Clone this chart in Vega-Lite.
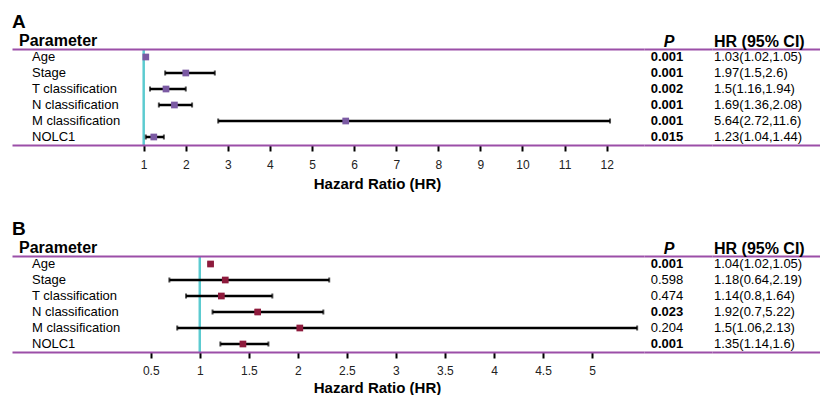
{
  "$schema": "https://vega.github.io/schema/vega-lite/v6.json",
  "padding": {"left": 12, "top": 12, "right": 0, "bottom": 0},
  "background": "white",
  "config": {
    "font": "Liberation Sans",
    "view": {"stroke": null},
    "title": {"font": "Liberation Sans", "fontWeight": "bold", "color": "black"},
    "axis": {"labelFont": "Liberation Sans", "titleFont": "Liberation Sans"}
  },
  "datasets": {
    "A": [
      {"param": "Age", "hr": 1.05, "lo": 1.03, "hi": 1.07, "p": 0.001, "ci": "1.03(1.02,1.05)"},
      {"param": "Stage", "hr": 2.0, "lo": 1.51, "hi": 2.69, "p": 0.001, "ci": "1.97(1.5,2.6)"},
      {"param": "T classification", "hr": 1.53, "lo": 1.15, "hi": 2.0, "p": 0.002, "ci": "1.5(1.16,1.94)"},
      {"param": "N classification", "hr": 1.73, "lo": 1.36, "hi": 2.15, "p": 0.001, "ci": "1.69(1.36,2.08)"},
      {"param": "M classification", "hr": 5.8, "lo": 2.77, "hi": 12.08, "p": 0.001, "ci": "5.64(2.72,11.6)"},
      {"param": "NOLC1", "hr": 1.24, "lo": 1.05, "hi": 1.48, "p": 0.015, "ci": "1.23(1.04,1.44)"}
    ],
    "B": [
      {"param": "Age", "hr": 1.11, "lo": 1.09, "hi": 1.13, "p": 0.001, "ci": "1.04(1.02,1.05)"},
      {"param": "Stage", "hr": 1.26, "lo": 0.69, "hi": 2.32, "p": 0.598, "ci": "1.18(0.64,2.19)"},
      {"param": "T classification", "hr": 1.22, "lo": 0.86, "hi": 1.74, "p": 0.474, "ci": "1.14(0.8,1.64)"},
      {"param": "N classification", "hr": 1.59, "lo": 1.13, "hi": 2.26, "p": 0.023, "ci": "1.92(0.7,5.22)"},
      {"param": "M classification", "hr": 2.02, "lo": 0.77, "hi": 5.46, "p": 0.204, "ci": "1.5(1.06,2.13)"},
      {"param": "NOLC1", "hr": 1.44, "lo": 1.21, "hi": 1.7, "p": 0.001, "ci": "1.35(1.14,1.6)"}
    ]
  },
  "spacing": 28,
  "vconcat": [
    {
      "title": {"text": "A", "anchor": "start", "fontSize": 19, "offset": 1},
      "data": {"name": "A"},
      "spacing": 0,
      "hconcat": [
        {
          "width": 632, "height": 96,
          "title": {"text": "Parameter", "anchor": "start", "fontSize": 16, "dx": 7, "offset": -1},
          "layer": [
            {"data": {"values": [{"ref": 1}]},
             "mark": {"type": "rule", "color": "#5ccbd0", "strokeWidth": 2.5},
             "encoding": {"x": {"field": "ref", "type": "quantitative",
               "scale": {"domain": [-2.129, 12.887], "nice": false, "zero": false},
               "axis": {"orient": "top", "title": null, "labels": false, "ticks": false, "grid": false, "domainColor": "#9b4fa8", "domainWidth": 2, "zindex": 1}}}},
            {"mark": {"type": "rule", "color": "black", "strokeWidth": 2.5},
             "encoding": {
               "x": {"field": "lo", "type": "quantitative",
                 "axis": {"orient": "bottom", "values": [1,2,3,4,5,6,7,8,9,10,11,12], "format": "~g", "title": "Hazard Ratio (HR)", "titleFontSize": 15, "titleFontWeight": "bold", "titleColor": "black", "titleX": 365, "titlePadding": 6, "domainColor": "#9b4fa8", "domainWidth": 2, "tickColor": "black", "tickWidth": 2, "tickSize": 6, "labelFontSize": 12, "labelColor": "#222", "labelPadding": 8, "grid": false, "zindex": 1, "labelFlush": false, "labelOverlap": false}},
               "x2": {"field": "hi"},
               "y": {"field": "param", "type": "nominal",
                 "scale": {"domain": ["Age", "Stage", "T classification", "N classification", "M classification", "NOLC1"], "paddingInner": 0, "paddingOuter": 0},
                 "axis": null}}},
            {"mark": {"type": "tick", "color": "black", "size": 5, "thickness": 2},
             "encoding": {"x": {"field": "lo", "type": "quantitative", "axis": null}, "y": {"field": "param", "type": "nominal", "axis": null}}},
            {"mark": {"type": "tick", "color": "black", "size": 5, "thickness": 2},
             "encoding": {"x": {"field": "hi", "type": "quantitative", "axis": null}, "y": {"field": "param", "type": "nominal", "axis": null}}},
            {"mark": {"type": "point", "shape": "square", "filled": true, "size": 45, "color": "#7b5aa3", "opacity": 1},
             "encoding": {"x": {"field": "hr", "type": "quantitative", "axis": null}, "y": {"field": "param", "type": "nominal", "axis": null}}},
            {"mark": {"type": "text", "align": "left", "fontSize": 13, "color": "black", "dx": 20},
             "encoding": {"x": {"datum": -2.129, "type": "quantitative", "axis": null}, "y": {"field": "param", "type": "nominal", "axis": null}, "text": {"field": "param", "type": "nominal"}}}
          ],
          "resolve": {"axis": {"x": "independent"}}
        },
        {
          "width": 68, "height": 96,
          "title": {"text": "P", "fontStyle": "italic", "fontSize": 16, "anchor": "middle", "dx": -9, "offset": -1},
          "layer": [
            {"transform": [{"filter": "datum.p < 0.05"}],
             "mark": {"type": "text", "fontWeight": "bold", "fontSize": 13, "color": "black", "dx": -11},
             "encoding": {
               "x": {"datum": 0.5, "type": "quantitative", "scale": {"domain": [0, 1]},
                 "axis": {"orient": "bottom", "title": null, "labels": false, "ticks": false, "grid": false, "domainColor": "#9b4fa8", "domainWidth": 2}},
               "y": {"field": "param", "type": "nominal", "scale": {"domain": ["Age", "Stage", "T classification", "N classification", "M classification", "NOLC1"], "paddingInner": 0, "paddingOuter": 0}, "axis": null},
               "text": {"field": "p", "type": "quantitative", "format": ".3f"}}},
            {"transform": [{"filter": "datum.p >= 0.05"}],
             "mark": {"type": "text", "fontSize": 13, "color": "black", "dx": -11},
             "encoding": {
               "x": {"datum": 0.5, "type": "quantitative",
                 "axis": {"orient": "top", "title": null, "labels": false, "ticks": false, "grid": false, "domainColor": "#9b4fa8", "domainWidth": 2}},
               "y": {"field": "param", "type": "nominal", "axis": null},
               "text": {"field": "p", "type": "quantitative", "format": ".3f"}}}
          ],
          "resolve": {"axis": {"x": "independent"}}
        },
        {
          "width": 108, "height": 96,
          "title": {"text": "HR (95% CI)", "anchor": "start", "fontSize": 16, "dx": 2, "offset": -1},
          "layer": [
            {"mark": {"type": "text", "align": "left", "fontSize": 13, "color": "black", "dx": 2},
             "encoding": {
               "x": {"datum": 0, "type": "quantitative", "scale": {"domain": [0, 1]},
                 "axis": {"orient": "bottom", "title": null, "labels": false, "ticks": false, "grid": false, "domainColor": "#9b4fa8", "domainWidth": 2}},
               "y": {"field": "param", "type": "nominal", "scale": {"domain": ["Age", "Stage", "T classification", "N classification", "M classification", "NOLC1"], "paddingInner": 0, "paddingOuter": 0}, "axis": null},
               "text": {"field": "ci", "type": "nominal"}}},
            {"mark": {"type": "text", "align": "left", "fontSize": 13, "opacity": 0},
             "encoding": {
               "x": {"datum": 0, "type": "quantitative",
                 "axis": {"orient": "top", "title": null, "labels": false, "ticks": false, "grid": false, "domainColor": "#9b4fa8", "domainWidth": 2}},
               "y": {"field": "param", "type": "nominal", "axis": null},
               "text": {"field": "ci", "type": "nominal"}}}
          ],
          "resolve": {"axis": {"x": "independent"}}
        }
      ]
    },
    {
      "title": {"text": "B", "anchor": "start", "fontSize": 19, "offset": 1},
      "data": {"name": "B"},
      "spacing": 0,
      "hconcat": [
        {
          "width": 632, "height": 96,
          "title": {"text": "Parameter", "anchor": "start", "fontSize": 16, "dx": 7, "offset": -1},
          "layer": [
            {"data": {"values": [{"ref": 1}]},
             "mark": {"type": "rule", "color": "#5ccbd0", "strokeWidth": 2.5},
             "encoding": {"x": {"field": "ref", "type": "quantitative",
               "scale": {"domain": [-0.9147, 5.5297], "nice": false, "zero": false},
               "axis": {"orient": "top", "title": null, "labels": false, "ticks": false, "grid": false, "domainColor": "#9b4fa8", "domainWidth": 2, "zindex": 1}}}},
            {"mark": {"type": "rule", "color": "black", "strokeWidth": 2.5},
             "encoding": {
               "x": {"field": "lo", "type": "quantitative",
                 "axis": {"orient": "bottom", "values": [0.5,1,1.5,2,2.5,3,3.5,4,4.5,5], "format": "~g", "title": "Hazard Ratio (HR)", "titleFontSize": 15, "titleFontWeight": "bold", "titleColor": "black", "titleX": 365, "titlePadding": 4, "domainColor": "#9b4fa8", "domainWidth": 2, "tickColor": "black", "tickWidth": 2, "tickSize": 6, "labelFontSize": 12, "labelColor": "#222", "labelPadding": 7, "grid": false, "zindex": 1, "labelFlush": false, "labelOverlap": false}},
               "x2": {"field": "hi"},
               "y": {"field": "param", "type": "nominal",
                 "scale": {"domain": ["Age", "Stage", "T classification", "N classification", "M classification", "NOLC1"], "paddingInner": 0, "paddingOuter": 0},
                 "axis": null}}},
            {"mark": {"type": "tick", "color": "black", "size": 5, "thickness": 2},
             "encoding": {"x": {"field": "lo", "type": "quantitative", "axis": null}, "y": {"field": "param", "type": "nominal", "axis": null}}},
            {"mark": {"type": "tick", "color": "black", "size": 5, "thickness": 2},
             "encoding": {"x": {"field": "hi", "type": "quantitative", "axis": null}, "y": {"field": "param", "type": "nominal", "axis": null}}},
            {"mark": {"type": "point", "shape": "square", "filled": true, "size": 45, "color": "#8e1a3c", "opacity": 1},
             "encoding": {"x": {"field": "hr", "type": "quantitative", "axis": null}, "y": {"field": "param", "type": "nominal", "axis": null}}},
            {"mark": {"type": "text", "align": "left", "fontSize": 13, "color": "black", "dx": 20},
             "encoding": {"x": {"datum": -0.9147, "type": "quantitative", "axis": null}, "y": {"field": "param", "type": "nominal", "axis": null}, "text": {"field": "param", "type": "nominal"}}}
          ],
          "resolve": {"axis": {"x": "independent"}}
        },
        {
          "width": 68, "height": 96,
          "title": {"text": "P", "fontStyle": "italic", "fontSize": 16, "anchor": "middle", "dx": -9, "offset": -1},
          "layer": [
            {"transform": [{"filter": "datum.p < 0.05"}],
             "mark": {"type": "text", "fontWeight": "bold", "fontSize": 13, "color": "black", "dx": -11},
             "encoding": {
               "x": {"datum": 0.5, "type": "quantitative", "scale": {"domain": [0, 1]},
                 "axis": {"orient": "bottom", "title": null, "labels": false, "ticks": false, "grid": false, "domainColor": "#9b4fa8", "domainWidth": 2}},
               "y": {"field": "param", "type": "nominal", "scale": {"domain": ["Age", "Stage", "T classification", "N classification", "M classification", "NOLC1"], "paddingInner": 0, "paddingOuter": 0}, "axis": null},
               "text": {"field": "p", "type": "quantitative", "format": ".3f"}}},
            {"transform": [{"filter": "datum.p >= 0.05"}],
             "mark": {"type": "text", "fontSize": 13, "color": "black", "dx": -11},
             "encoding": {
               "x": {"datum": 0.5, "type": "quantitative",
                 "axis": {"orient": "top", "title": null, "labels": false, "ticks": false, "grid": false, "domainColor": "#9b4fa8", "domainWidth": 2}},
               "y": {"field": "param", "type": "nominal", "axis": null},
               "text": {"field": "p", "type": "quantitative", "format": ".3f"}}}
          ],
          "resolve": {"axis": {"x": "independent"}}
        },
        {
          "width": 108, "height": 96,
          "title": {"text": "HR (95% CI)", "anchor": "start", "fontSize": 16, "dx": 2, "offset": -1},
          "layer": [
            {"mark": {"type": "text", "align": "left", "fontSize": 13, "color": "black", "dx": 2},
             "encoding": {
               "x": {"datum": 0, "type": "quantitative", "scale": {"domain": [0, 1]},
                 "axis": {"orient": "bottom", "title": null, "labels": false, "ticks": false, "grid": false, "domainColor": "#9b4fa8", "domainWidth": 2}},
               "y": {"field": "param", "type": "nominal", "scale": {"domain": ["Age", "Stage", "T classification", "N classification", "M classification", "NOLC1"], "paddingInner": 0, "paddingOuter": 0}, "axis": null},
               "text": {"field": "ci", "type": "nominal"}}},
            {"mark": {"type": "text", "align": "left", "fontSize": 13, "opacity": 0},
             "encoding": {
               "x": {"datum": 0, "type": "quantitative",
                 "axis": {"orient": "top", "title": null, "labels": false, "ticks": false, "grid": false, "domainColor": "#9b4fa8", "domainWidth": 2}},
               "y": {"field": "param", "type": "nominal", "axis": null},
               "text": {"field": "ci", "type": "nominal"}}}
          ],
          "resolve": {"axis": {"x": "independent"}}
        }
      ]
    }
  ]
}
